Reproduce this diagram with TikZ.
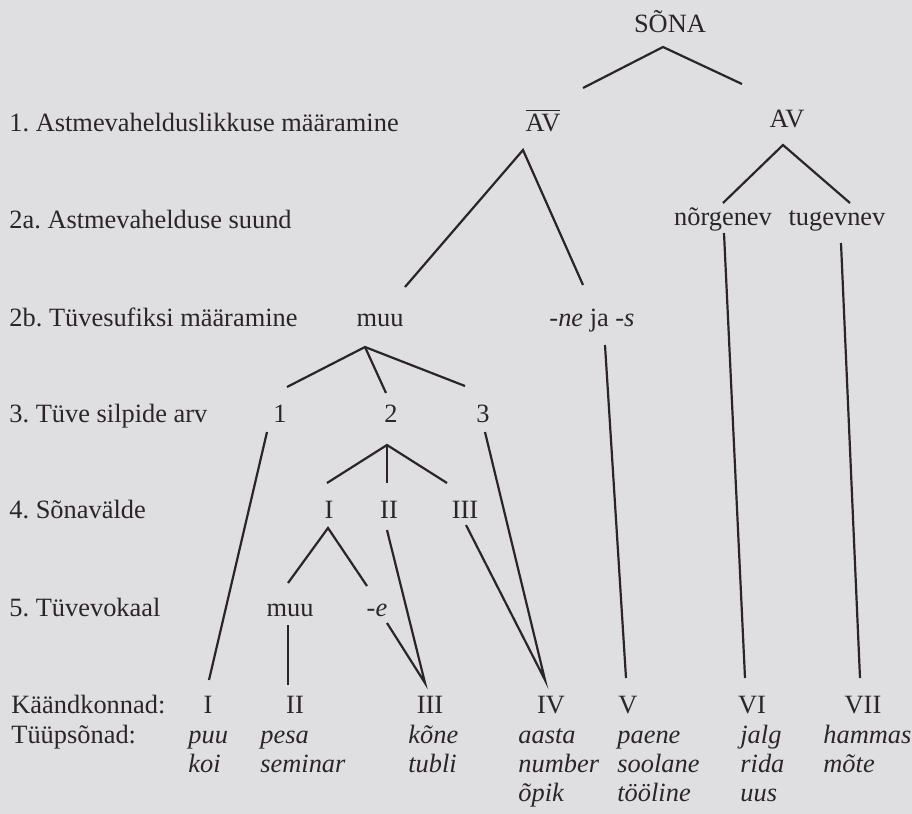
\documentclass[tikz,border=0pt]{standalone}
\usepackage{fontspec}
\setmainfont{Liberation Serif}
\usetikzlibrary{positioning}
\definecolor{paper}{HTML}{DFDEE0}
\definecolor{ink}{HTML}{2A2628}
\newcommand{\figfont}{\fontsize{13.2}{14.5}\selectfont\frenchspacing}
\tikzset{
  lvl/.style={anchor=base west, inner sep=0pt, text=ink, font=\figfont},
  tn/.style={anchor=base, inner sep=0pt, text=ink, font=\figfont},
  tw/.style={anchor=base west, inner sep=0pt, text=ink, font=\figfont\itshape},
  br/.style={draw=ink, line width=1.1pt},
}
\begin{document}
\begin{tikzpicture}[x=0.5pt, y=-0.5pt]
    \fill[paper] (0,0) rectangle (912,814);
    \useasboundingbox (0,0) rectangle (912,814);

    %% --- level labels ---
    \node[lvl] (l1)  at (9,131) {1. Astmevahelduslikkuse määramine};
    \node[lvl] (l2a) at (9,228) {2a. Astmevahelduse suund};
    \node[lvl] (l2b) at (9,326) {2b. Tüvesufiksi määramine};
    \node[lvl] (l3)  at (9,422) {3. Tüve silpide arv};
    \node[lvl] (l4)  at (9,518) {4. Sõnavälde};
    \node[lvl] (l5)  at (9,616) {5. Tüvevokaal};
    \node[lvl] (lk)  at (11,713) {Käändkonnad:};
    \node[lvl] (lt)  at (11,743) {Tüüpsõnad:};

    %% --- tree nodes ---
    \node[tn] (sona) at (670,32)  {SÕNA};
    \node[tn] (avn)  at (543,131) {$\overline{\hbox{AV}}$};
    \node[tn] (av)   at (787,127) {AV};
    \node[tn] (nrg)  at (723,225) {nõrgenev};
    \node[tn] (tug)  at (837,225) {tugevnev};
    \node[tn] (muu)  at (380,326) {muu};
    \node[tn] (nes)  at (592,326) {\textit{-ne} ja \textit{-s}};
    \node[tn] (s1)   at (280,422) {1};
    \node[tn] (s2)   at (391,422) {2};
    \node[tn] (s3)   at (483,422) {3};
    \node[tn] (vI)   at (329,518) {I};
    \node[tn] (vII)  at (389,518) {II};
    \node[tn] (vIII) at (465,518) {III};
    \node[tn] (tvm)  at (290,616) {muu};
    \node[tn] (tve)  at (377,616) {\textit{-e}};

    %% --- declension classes ---
    \node[tn] (kI)   at (208,713) {I};
    \node[tn] (kII)  at (295,713) {II};
    \node[tn] (kIII) at (430,713) {III};
    \node[tn] (kIV)  at (551,713) {IV};
    \node[tn] (kV)   at (628,713) {V};
    \node[tn] (kVI)  at (752,713) {VI};
    \node[tn] (kVII) at (863,713) {VII};

    %% --- type words ---
    \node[tw] (w1a) at (188,743) {puu};
    \node[tw] (w1b) at (188,772) {koi};
    \node[tw] (w2a) at (260,743) {pesa};
    \node[tw] (w2b) at (260,772) {seminar};
    \node[tw] (w3a) at (408,743) {kõne};
    \node[tw] (w3b) at (408,772) {tubli};
    \node[tw] (w4a) at (518,743) {aasta};
    \node[tw] (w4b) at (518,772) {number};
    \node[tw] (w4c) at (518,801) {õpik};
    \node[tw] (w5a) at (617,743) {paene};
    \node[tw] (w5b) at (617,772) {soolane};
    \node[tw] (w5c) at (617,801) {tööline};
    \node[tw] (w6a) at (740,743) {jalg};
    \node[tw] (w6b) at (740,772) {rida};
    \node[tw] (w6c) at (740,801) {uus};
    \node[tw] (w7a) at (823,743) {hammas};
    \node[tw] (w7b) at (823,772) {mõte};

    %% --- branch points and line ends ---
    \coordinate (sona-v) at (663,47);  \coordinate (sona-l) at (583,88);  \coordinate (sona-r) at (742,84);
    \coordinate (avn-v)  at (523,150); \coordinate (avn-l)  at (405,287); \coordinate (avn-r)  at (583,285);
    \coordinate (av-v)   at (783,145); \coordinate (av-l)   at (723,203); \coordinate (av-r)   at (850,203);
    \coordinate (muu-v)  at (365,347); \coordinate (muu-l)  at (287,387); \coordinate (muu-m)  at (386,393); \coordinate (muu-r) at (465,386);
    \coordinate (s2-v)   at (387,445); \coordinate (s2-l)   at (327,483); \coordinate (s2-m)   at (387,483); \coordinate (s2-r)  at (447,483);
    \coordinate (vI-v)   at (328,528); \coordinate (vI-l)   at (288,583); \coordinate (vI-r)   at (367,586);

    \draw[br] (sona-l) -- (sona-v) -- (sona-r);
    \draw[br] (avn-l) -- (avn-v) -- (avn-r);
    \draw[br] (av-l) -- (av-v) -- (av-r);
    \draw[br] (muu-l) -- (muu-v) -- (muu-r);
    \draw[br] (muu-v) -- (muu-m);
    \draw[br] (s2-l) -- (s2-v) -- (s2-r);
    \draw[br] (s2-v) -- (s2-m);
    \draw[br] (vI-l) -- (vI-v) -- (vI-r);

    %% --- long lines down to the classes ---
    \coordinate (s1-d)   at (267,432); \coordinate (kI-u)   at (209,680);
    \coordinate (tvm-d)  at (288,625); \coordinate (kII-u)  at (288,685);
    \coordinate (tve-d)  at (387,623); \coordinate (vII-d)  at (387,530); \coordinate (kIII-u) at (425,683);
    \coordinate (vIII-d) at (466,525); \coordinate (s3-d)   at (485,432); \coordinate (kIV-u)  at (545,680);
    \coordinate (nes-d)  at (605,345); \coordinate (kV-u)   at (626,678);
    \coordinate (nrg-d)  at (724,233); \coordinate (kVI-u)  at (745,678);
    \coordinate (tug-d)  at (841,243); \coordinate (kVII-u) at (860,678);

    \draw[br] (s1-d) -- (kI-u);
    \draw[br] (tvm-d) -- (kII-u);
    \draw[br] (tve-d) -- (kIII-u) -- (vII-d);
    \draw[br] (vIII-d) -- (kIV-u) -- (s3-d);
    \draw[br] (nes-d) -- (kV-u);
    \draw[br] (nrg-d) -- (kVI-u);
    \draw[br] (tug-d) -- (kVII-u);
\end{tikzpicture}
\end{document}
